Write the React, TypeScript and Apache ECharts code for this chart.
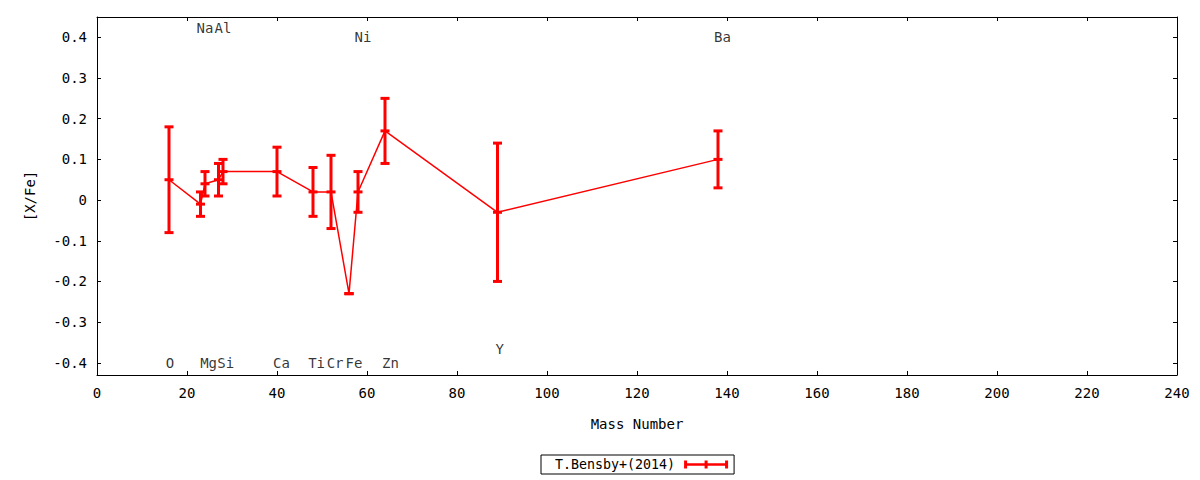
import React, { useEffect, useRef } from "react";
import * as echarts from "echarts";

// mass number, [X/Fe] and its error for each element
const elements = ["O", "Na", "Mg", "Al", "Si", "Ca", "Ti", "Cr", "Fe", "Ni", "Zn", "Y", "Ba"];
const massNumbers = [16, 23, 24, 27, 28, 40, 48, 52, 56, 58, 64, 89, 138];
const abundances = [0.05, -0.01, 0.04, 0.05, 0.07, 0.07, 0.02, 0.02, -0.23, 0.02, 0.17, -0.03, 0.1];
const errors = [0.13, 0.03, 0.03, 0.04, 0.03, 0.06, 0.06, 0.09, 0.0, 0.05, 0.08, 0.17, 0.07];

// where each element name is written
const labelNames = ["O", "Na", "Mg", "Al", "Si", "Ca", "Ti", "Cr", "Fe", "Ni", "Zn", "Y", "Ba"];
const labelX = [16.2, 24.0, 24.8, 28.0, 28.6, 41.0, 48.8, 52.9, 57.1, 59.1, 65.2, 89.5, 139.0];
const labelY = [-0.4, 0.422, -0.4, 0.422, -0.4, -0.4, -0.4, -0.4, -0.4, 0.4, -0.4, -0.366, 0.4];

const yTicks = [-0.4, -0.3, -0.2, -0.1, 0, 0.1, 0.2, 0.3, 0.4];

const seriesName = "T.Bensby+(2014)";
const FONT = "DejaVu Sans Mono";
const RED = "#ff0000";

const App: React.FC = () => {
  const chartRef = useRef<HTMLDivElement>(null);

  useEffect(() => {
    if (!chartRef.current) return;
    const chart = echarts.init(chartRef.current, undefined, { renderer: "svg" });

    const errData = massNumbers.map((m, i) => [
      m,
      abundances[i],
      abundances[i] - errors[i],
      abundances[i] + errors[i],
    ]);
    const lineData = massNumbers.map((m, i) => [m, abundances[i]]);
    const labelData = labelNames.map((n, i) => ({ name: n, value: [labelX[i], labelY[i]] }));

    const border = { onZero: false, lineStyle: { color: "#000", width: 1 } };
    const tick = { show: true, inside: true, length: 4, lineStyle: { color: "#000", width: 1 } };
    const axisText = { color: "#000", fontFamily: FONT, fontSize: 14 };

    const option: echarts.EChartsOption = {
      animation: false,
      backgroundColor: "#fff",
      textStyle: { fontFamily: FONT },
      grid: { left: 97, right: 23, top: 17, bottom: 105 },
      legend: {
        left: 541,
        top: 455,
        align: "right",
        orient: "horizontal",
        borderColor: "#000",
        borderWidth: 1,
        borderRadius: 0,
        padding: [3, 6, 3, 14],
        itemWidth: 44,
        itemHeight: 8,
        textStyle: { ...axisText, fontSize: 13.3, padding: [0, 4, 0, 0] },
        data: [
          {
            name: seriesName,
            icon:
              "path://M0,0H3V8H0Z M20.5,0H23.5V8H20.5Z M41,0H44V8H41Z M0,2.8H44V5.2H0Z",
          },
        ],
      },
      xAxis: [
        {
          type: "value",
          min: 0,
          max: 240,
          interval: 20,
          position: "bottom",
          name: "Mass Number",
          nameLocation: "middle",
          nameGap: 42,
          nameTextStyle: axisText,
          axisLine: border,
          axisTick: tick,
          axisLabel: { ...axisText, margin: 11 },
          splitLine: { show: false },
        },
        {
          type: "value",
          min: 0,
          max: 240,
          interval: 20,
          position: "top",
          axisLine: border,
          axisTick: tick,
          axisLabel: { show: false },
          splitLine: { show: false },
        },
      ],
      yAxis: [
        {
          type: "value",
          min: -0.43,
          max: 0.45,
          position: "left",
          name: "[X/Fe]",
          nameLocation: "middle",
          nameGap: 60,
          nameTextStyle: axisText,
          axisLine: { show: true, ...border },
          axisTick: { ...tick, customValues: yTicks },
          axisLabel: {
            ...axisText,
            margin: 10,
            customValues: yTicks,
            formatter: (v: number) => String(Math.round(v * 10) / 10),
          },
          splitLine: { show: false },
        },
        {
          type: "value",
          min: -0.43,
          max: 0.45,
          position: "right",
          axisLine: { show: true, ...border },
          axisTick: { ...tick, customValues: yTicks },
          axisLabel: { show: false },
          splitLine: { show: false },
        },
      ],
      series: [
        {
          name: "line",
          type: "line",
          data: lineData,
          showSymbol: false,
          symbol: "none",
          lineStyle: { color: RED, width: 1.5 },
          z: 2,
        },
        {
          name: seriesName,
          type: "custom",
          data: errData,
          itemStyle: { color: RED },
          z: 3,
          renderItem: (params: any, api: any) => {
            const x = api.value(0);
            const p = api.coord([x, api.value(1)]);
            const lo = api.coord([x, api.value(2)]);
            const hi = api.coord([x, api.value(3)]);
            const hw = 4.5;
            const st = { stroke: RED, lineWidth: 3 };
            const cap = (yy: number) => ({
              type: "line",
              shape: { x1: p[0] - hw, y1: yy, x2: p[0] + hw, y2: yy },
              style: st,
            });
            return {
              type: "group",
              children: [
                {
                  type: "line",
                  shape: { x1: p[0], y1: hi[1], x2: p[0], y2: lo[1] },
                  style: st,
                },
                cap(hi[1]),
                cap(lo[1]),
                cap(p[1]),
              ],
            };
          },
        },
        {
          name: "labels",
          type: "scatter",
          data: labelData,
          symbolSize: 0,
          silent: true,
          label: {
            show: true,
            position: "inside",
            formatter: "{b}",
            ...axisText,
          },
          z: 4,
        },
      ],
    };

    chart.setOption(option);
    return () => {
      chart.dispose();
    };
  }, []);

  return (
    <div
      ref={chartRef}
      style={{ position: "fixed", left: 0, top: 0, width: "1200px", height: "480px" }}
    />
  );
};

export default App;
